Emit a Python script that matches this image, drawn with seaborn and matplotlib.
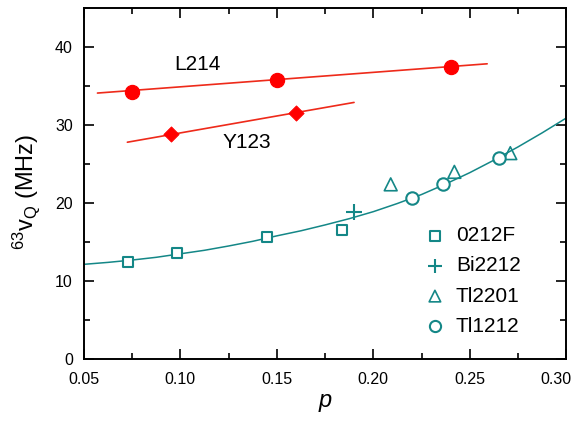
import numpy as np
import pandas as pd
import matplotlib
matplotlib.use("Agg")
import matplotlib.pyplot as plt
import matplotlib.transforms as mtransforms
from matplotlib.ticker import MultipleLocator
import seaborn as sns

RED = "#ff0000"
RED_LINE = "#ee2a1a"
TEAL = "#148787"

# L214 and Y123 (filled red)
l214_p = [0.075, 0.150, 0.240]
l214_v = [34.3, 35.8, 37.4]
l214_fit_p = [0.057, 0.259]
l214_fit_v = [34.1, 37.85]

y123_p = [0.095, 0.160]
y123_v = [28.9, 31.5]
y123_fit_p = [0.0725, 0.190]
y123_fit_v = [27.8, 32.9]

# open teal series
f0212_p = [0.073, 0.098, 0.145, 0.184]
f0212_v = [12.5, 13.6, 15.7, 16.5]
bi2212_p = [0.190]
bi2212_v = [18.9]
tl2201_p = [0.209, 0.242, 0.271]
tl2201_v = [22.4, 24.0, 26.4]
tl1212_p = [0.220, 0.236, 0.265]
tl1212_v = [20.7, 22.5, 25.8]

# guide curve
curve_p = [0.05, 0.0625, 0.075, 0.0875, 0.10, 0.1125, 0.125, 0.1375, 0.15, 0.1625,
           0.175, 0.1875, 0.20, 0.2125, 0.225, 0.2375, 0.25, 0.2625, 0.275, 0.2875, 0.30]
curve_v = [12.15, 12.4, 12.7, 13.05, 13.5, 13.95, 14.5, 15.1, 15.8, 16.45,
           17.2, 18.0, 18.9, 19.95, 21.1, 22.45, 23.9, 25.5, 27.2, 29.0, 30.9]

sns.set_style("ticks")
plt.rcParams["font.family"] = ["Liberation Sans", "DejaVu Sans"]
plt.rcParams["mathtext.default"] = "regular"
plt.rcParams["text.color"] = "black"
plt.rcParams["axes.labelcolor"] = "black"

fig, ax = plt.subplots(figsize=(5.79, 4.22), dpi=100)
fig.subplots_adjust(left=0.145, right=0.978, top=0.981, bottom=0.149)

# fit lines
sns.lineplot(x=l214_fit_p, y=l214_fit_v, ax=ax, color=RED_LINE, lw=1.2, estimator=None, sort=False)
sns.lineplot(x=y123_fit_p, y=y123_fit_v, ax=ax, color=RED_LINE, lw=1.2, estimator=None, sort=False)
sns.lineplot(x=curve_p, y=curve_v, ax=ax, color=TEAL, lw=1.1, estimator=None, sort=False)

sns.scatterplot(x=l214_p, y=l214_v, ax=ax, color=RED, marker="o", s=105, edgecolor=RED, zorder=5)
sns.scatterplot(x=y123_p, y=y123_v, ax=ax, color=RED, marker="D", s=60, edgecolor=RED, zorder=5)

ax.scatter(f0212_p, f0212_v, marker="s", s=62, edgecolors=TEAL, facecolors="white", linewidths=1.5, zorder=5, label="0212F")
ax.scatter(bi2212_p, bi2212_v, marker="+", s=120, color=TEAL, linewidths=1.5, zorder=5, label="Bi2212")
ax.scatter(tl2201_p, tl2201_v, marker="^", s=85, edgecolors=TEAL, facecolors="none", linewidths=1.2, zorder=5, label="Tl2201")
ax.scatter(tl1212_p, tl1212_v, marker="o", s=80, edgecolors=TEAL, facecolors="white", linewidths=1.5, zorder=5, label="Tl1212")

ax.text(0.109, 37.8, "L214", fontsize=15, ha="center", va="center")
ax.text(0.1345, 27.8, "Y123", fontsize=15, ha="center", va="center")

ax.set_xlim(0.05, 0.30)
ax.set_ylim(0, 45)
ax.xaxis.set_minor_locator(MultipleLocator(0.025))
ax.yaxis.set_major_locator(MultipleLocator(10))
ax.yaxis.set_minor_locator(MultipleLocator(5))
ax.set_xticks([0.05, 0.10, 0.15, 0.20, 0.25, 0.30])
ax.set_xticklabels(["0.05", "0.10", "0.15", "0.20", "0.25", "0.30"])
ax.tick_params(which="both", direction="in", top=True, right=True, width=1.2, labelsize=11.5, colors="black")
ax.tick_params(which="major", length=7)
ax.tick_params(which="minor", length=4.5)
ax.tick_params(axis="x", pad=9)
ax.tick_params(axis="y", pad=8)
for sp in ax.spines.values():
    sp.set_linewidth(1.4)
    sp.set_color("black")

# last x label is nudged left to stay inside the figure
last = ax.get_xticklabels()[-1]
last.set_transform(last.get_transform() + mtransforms.ScaledTranslation(-10 / 100, 0, fig.dpi_scale_trans))

ax.set_xlabel("p", fontsize=17, style="italic", labelpad=2)
ax.set_ylabel("$^{63}$v$_{Q}$ (MHz)", fontsize=17)
ax.yaxis.set_label_coords(-0.087, 0.476)

leg = ax.legend(loc="lower right", bbox_to_anchor=(0.944, 0.013), frameon=False, fontsize=15,
                handletextpad=0.3, labelspacing=0.54, markerscale=0.9, handlelength=1.4)

fig.savefig("out.png", dpi=100)
